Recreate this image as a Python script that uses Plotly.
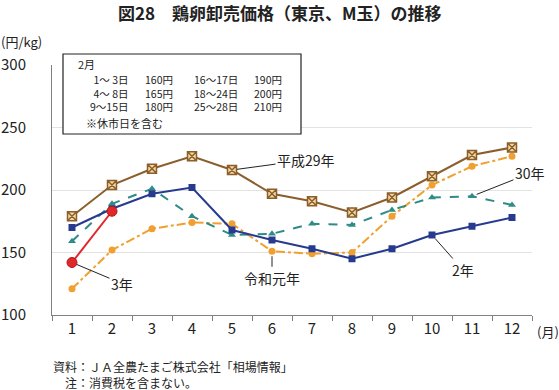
import plotly.graph_objects as go

months = ["1", "2", "3", "4", "5", "6", "7", "8", "9", "10", "11", "12"]
h29 = [179, 204, 217, 227, 216, 197, 191, 182, 194, 211, 228, 234]
h30 = [159, 189, 201, 179, 164, 165, 173, 172, 184, 194, 195, 188]
r1 = [121, 152, 169, 174, 173, 151, 149, 150, 179, 204, 219, 227]
r2 = [170, 185, 197, 202, 168, 160, 153, 145, 153, 164, 171, 178]
r3 = [142, 183]
y_ticks = [100, 150, 200, 250, 300]

# February price table (note box)
feb_days_a = ["1～ 3日", "4～ 8日", "9～15日"]
feb_price_a = ["160円", "165円", "180円"]
feb_days_b = ["16～17日", "18～24日", "25～28日"]
feb_price_b = ["190円", "200円", "210円"]

FONT = "Noto Sans CJK JP"
fig = go.Figure()

fig.add_trace(go.Scatter(x=months, y=r1, mode="lines+markers",
    line=dict(color="#F0A030", width=2, dash="dashdot"),
    marker=dict(symbol="circle", size=7, color="#F0A030")))
fig.add_trace(go.Scatter(x=months, y=h30, mode="lines+markers",
    line=dict(color="#2E8C86", width=2, dash="dash"),
    marker=dict(symbol="triangle-up", size=7, color="#2E8C86")))
fig.add_trace(go.Scatter(x=months, y=r2, mode="lines+markers",
    line=dict(color="#263A8E", width=2),
    marker=dict(symbol="square", size=7, color="#263A8E")))
fig.add_trace(go.Scatter(x=months, y=h29, mode="lines+markers",
    line=dict(color="#8B5E2B", width=2),
    marker=dict(symbol="square-x", size=9, color="#F2D9A2",
                line=dict(color="#8B5E2B", width=1.5))))
fig.add_trace(go.Scatter(x=months[:2], y=r3, mode="lines+markers",
    line=dict(color="#E0282A", width=2),
    marker=dict(symbol="circle", size=10, color="#E0282A",
                line=dict(color="#B01818", width=1))))

L, R, T, B = 52, 27, 65, 75
PW, PH = 559 - L - R, 390 - T - B

def px(x):
    return (x - L) / PW

def py(y):
    return (390 - B - y) / PH

ann = []
def txt(x, y, t, size=11, xanchor="left", bold=False, align="left"):
    ann.append(dict(x=px(x), y=py(y), xref="paper", yref="paper",
                    text=("<b>%s</b>" % t) if bold else t,
                    showarrow=False, xanchor=xanchor, yanchor="middle", borderpad=0,
                    align=align, font=dict(family=FONT, size=size, color="#222")))

txt(280, 12, "図28　鶏卵卸売価格（東京、M玉）の推移", size=17, xanchor="center", bold=True)
txt(0, 42, "(円/kg)", size=13)
txt(536, 331, "(月)", size=13)
txt(52, 374.5, "資料：ＪＡ全農たまご株式会社「相場情報」<br>\u3000注：消費税を含まない。", size=12)

# box contents
txt(77, 63.5, "2月", size=11)
txt(129, 93, "<br>".join(feb_days_a), size=10.5, xanchor="right", align="right")
txt(144, 93, "<br>".join(feb_price_a), size=10.5)
txt(193, 93, "<br>".join(feb_days_b), size=10.5)
txt(253, 93, "<br>".join(feb_price_b), size=10.5)
txt(85, 122.5, "※休市日を含む", size=11)

def lab(idx, yval, text, ax, ay):
    ann.append(dict(x=idx, y=yval, xref="x", yref="y", text=text, showarrow=True,
                    arrowhead=0, arrowwidth=1, arrowcolor="#222", ax=ax, ay=ay,
                    standoff=5, font=dict(family=FONT, size=14, color="#222")))

lab(4, h29[4], "平成29年", 74, -10)
lab(10, h30[10], "30年", 58, -23)
lab(9, r2[9], "2年", 31, 35)
lab(5, r1[5], "令和元年", 0, 27)
lab(0, r3[0], "3年", 50, 21)

fig.update_layout(
    width=559, height=390, margin=dict(l=L, r=R, t=T, b=B, autoexpand=False),
    paper_bgcolor="white", plot_bgcolor="white", showlegend=False,
    font=dict(family=FONT, color="#222"),
    annotations=ann,
    shapes=[dict(type="rect", xref="paper", yref="paper", x0=px(63), x1=px(301),
                 y0=py(134), y1=py(54), line=dict(color="#222", width=1.2),
                 fillcolor="white", layer="above")],
    xaxis=dict(type="category", categoryorder="array", categoryarray=months,
               range=[-0.5, 11.5], tickson="boundaries", ticks="outside", ticklen=5,
               tickcolor="#808080", showline=True, linecolor="#808080", linewidth=1,
               showgrid=False, automargin=False, tickfont=dict(size=15, family=FONT)),
    yaxis=dict(range=[100, 300], tickvals=y_ticks, showline=True, linecolor="#808080",
               linewidth=1, showgrid=True, gridcolor="#E3E3E3", gridwidth=1, zeroline=False,
               automargin=False, ticks="", ticklabelstandoff=22,
               tickfont=dict(size=15, family=FONT)),
)

fig.write_html("out.html", config={"displayModeBar": False},
               post_script="document.body.style.margin='0';")
